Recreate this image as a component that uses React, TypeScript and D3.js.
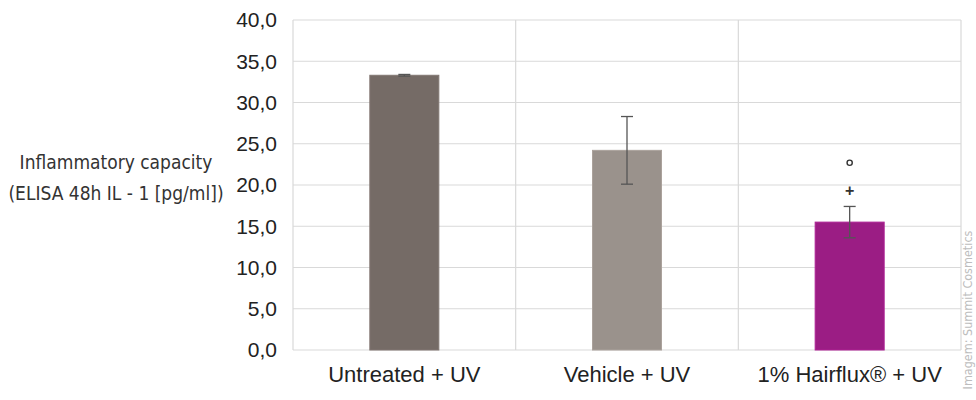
import React, { useEffect, useRef } from 'react';
import * as d3 from 'd3';

const categories = ['Untreated + UV', 'Vehicle + UV', '1% Hairflux® + UV'];
const values = [33.3, 24.2, 15.5];
const errors = [0.1, 4.1, 1.9];
const barColors = ['#756b66', '#9a928c', '#9b1d84'];
const yTicks = [0, 5, 10, 15, 20, 25, 30, 35, 40];

const App: React.FC = () => {
  const ref = useRef<SVGSVGElement>(null);

  useEffect(() => {
    if (!ref.current) return;
    const svg = d3.select(ref.current);
    svg.selectAll('*').remove();

    const width = 976;
    const height = 400;
    const margin = { top: 20, right: 15, bottom: 50, left: 293 };
    const innerW = width - margin.left - margin.right;
    const innerH = height - margin.top - margin.bottom;

    svg.attr('width', width).attr('height', height);
    svg.append('rect').attr('width', width).attr('height', height).attr('fill', '#fff');

    const x = d3.scaleBand().domain(categories).range([0, innerW]).paddingInner(0).paddingOuter(0);
    const y = d3.scaleLinear().domain([0, 40]).range([innerH, 0]);

    const g = svg.append('g').attr('transform', `translate(${margin.left},${margin.top})`);

    // horizontal grid
    g.selectAll('.hgrid')
      .data(yTicks)
      .enter()
      .append('line')
      .attr('x1', 0)
      .attr('x2', innerW)
      .attr('y1', d => y(d))
      .attr('y2', d => y(d))
      .attr('stroke', '#d9d9d9')
      .attr('stroke-width', 1.2);

    // vertical grid at category boundaries
    const bounds = [0, ...categories.map(c => (x(c) || 0) + x.bandwidth())];
    g.selectAll('.vgrid')
      .data(bounds)
      .enter()
      .append('line')
      .attr('x1', d => d)
      .attr('x2', d => d)
      .attr('y1', 0)
      .attr('y2', innerH)
      .attr('stroke', '#d9d9d9')
      .attr('stroke-width', 1.2);

    // y tick labels
    g.selectAll('.ytick')
      .data(yTicks)
      .enter()
      .append('text')
      .attr('x', -16)
      .attr('y', d => y(d))
      .attr('dy', '0.35em')
      .attr('text-anchor', 'end')
      .attr('font-family', 'Liberation Sans, Arial, sans-serif')
      .attr('font-size', '21px')
      .attr('fill', '#222')
      .text(d => d.toFixed(1).replace('.', ','));

    const barW = 69;
    const cx = (i: number) => (x(categories[i]) || 0) + x.bandwidth() / 2;

    g.selectAll('.bar')
      .data(values)
      .enter()
      .append('rect')
      .attr('x', (_, i) => cx(i) - barW / 2)
      .attr('width', barW)
      .attr('y', d => y(d))
      .attr('height', d => innerH - y(d))
      .attr('fill', (_, i) => barColors[i])
      .attr('stroke', (_, i) => d3.color(barColors[i])!.brighter(0.3).toString())
      .attr('stroke-width', 1);

    // error bars
    const cap = 6;
    values.forEach((v, i) => {
      const e = errors[i];
      const xc = cx(i);
      const eg = g.append('g').attr('stroke', '#555').attr('stroke-width', 1.3);
      eg.append('line').attr('x1', xc).attr('x2', xc).attr('y1', y(v + e)).attr('y2', y(v - e));
      eg.append('line').attr('x1', xc - cap).attr('x2', xc + cap).attr('y1', y(v + e)).attr('y2', y(v + e));
      eg.append('line').attr('x1', xc - cap).attr('x2', xc + cap).attr('y1', y(v - e)).attr('y2', y(v - e));
    });

    // significance markers above third bar
    const sx = cx(2);
    g.append('text')
      .attr('x', sx)
      .attr('y', y(19.4))
      .attr('dy', '0.35em')
      .attr('text-anchor', 'middle')
      .attr('font-family', 'Liberation Sans, Arial, sans-serif')
      .attr('font-size', '16px')
      .attr('font-weight', 'bold')
      .attr('fill', '#333')
      .text('+');
    g.append('circle')
      .attr('cx', sx)
      .attr('cy', y(22.7))
      .attr('r', 2.6)
      .attr('fill', 'none')
      .attr('stroke', '#333')
      .attr('stroke-width', 1.4);

    // category labels
    g.selectAll('.xlabel')
      .data(categories)
      .enter()
      .append('text')
      .attr('x', d => (x(d) || 0) + x.bandwidth() / 2)
      .attr('y', innerH + 24)
      .attr('dy', '0.35em')
      .attr('text-anchor', 'middle')
      .attr('font-family', 'Liberation Sans, Arial, sans-serif')
      .attr('font-size', '22px')
      .attr('fill', '#222')
      .text(d => d);

    // y axis title
    const title = svg.append('text')
      .attr('text-anchor', 'middle')
      .attr('font-family', 'DejaVu Sans Condensed, DejaVu Sans, sans-serif')
      .attr('font-size', '19px')
      .attr('fill', '#333');
    title.append('tspan').attr('x', 116).attr('y', 169).text('Inflammatory capacity');
    title.append('tspan').attr('x', 116).attr('y', 200).text('(ELISA 48h IL - 1 [pg/ml])');

    // watermark
    svg.append('text')
      .attr('transform', `translate(972, 310) rotate(-90)`)
      .attr('text-anchor', 'middle')
      .attr('font-family', 'DejaVu Sans Condensed, DejaVu Sans, sans-serif')
      .attr('font-size', '12.5px')
      .attr('fill', '#bdbdbd')
      .text('Imagem: Summit Cosmetics');
  }, []);

  return <svg ref={ref} style={{ display: 'block', position: 'absolute', left: 0, top: 0 }}></svg>;
};

export default App;
